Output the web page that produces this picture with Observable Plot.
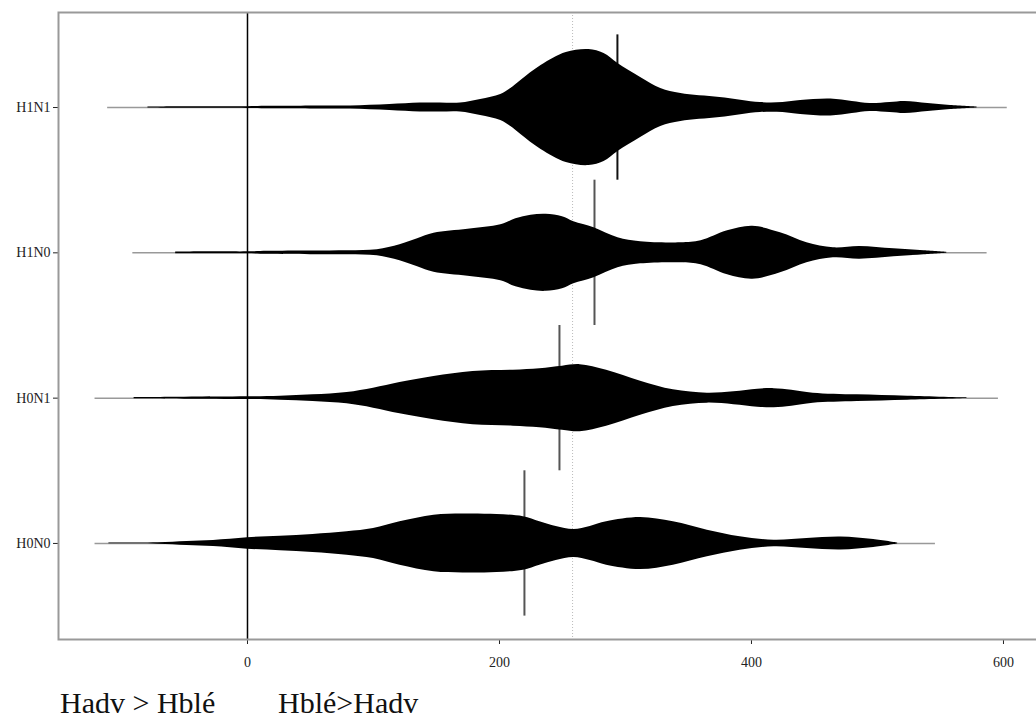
<!DOCTYPE html>
<html>
<head>
<meta charset="utf-8">
<script src="https://cdn.jsdelivr.net/npm/d3@7"></script>
<script src="https://cdn.jsdelivr.net/npm/@observablehq/plot@0.6"></script>
<style>
  html, body { margin: 0; padding: 0; background: white; overflow: hidden; }
  #chart { width: 1040px; }
  #notes { position: relative; height: 40px; font-family: "Liberation Serif", serif; font-size: 30px; color: #111; }
  #notes span { position: absolute; top: 6px; line-height: 34px; white-space: nowrap; }
</style>
</head>
<body>
<div id="chart"></div>
<div id="notes"><span style="left:60px">Hadv &gt; Hblé</span><span style="left:278px">Hblé&gt;Hadv</span></div>
<script>
// Groups, bottom to top
const groups = ["H0N0", "H0N1", "H1N0", "H1N1"];
const groupMeans = [219.8, 247.6, 275.4, 293.6];
const overallMean = 258;
const rangeMin = [-121, -121, -91, -111];
const rangeMax = [546, 596, 587, 603];
const xTicks = [0, 200, 400, 600];

// Bean density profiles (value, relative half-width)
const h0n0X = [-110, -71, -48, -27, 0, 26, 52, 79, 100, 121, 148, 171, 198, 219, 232, 245, 259, 272, 285, 312, 338, 365, 391, 418, 444, 471, 497, 516];
const h0n0D = [0.4, 0.7, 2, 3, 5.7, 7.3, 9, 11.7, 15, 21.7, 28.3, 29.5, 29, 26.7, 21.7, 17, 14, 17, 21.7, 26, 21.7, 13.3, 6.7, 3.3, 5, 6.5, 4, 0.5];

const h0n1X = [-90, -50, 0, 26, 52, 79, 100, 121, 148, 179, 211, 232, 250, 264, 285, 312, 338, 365, 386, 405, 418, 432, 449, 484, 524, 571];
const h0n1D = [0.7, 1, 1.3, 2, 3.3, 5.7, 10, 15.7, 21.7, 26.7, 28, 29.5, 32, 33.5, 28, 17, 8.3, 5, 6.5, 9, 9.5, 8, 5, 3.3, 2, 0.3];

const h1n0X = [-57, -20, 0, 16, 50, 80, 103, 121, 135, 148, 175, 201, 213, 225, 237, 250, 259, 275, 294, 312, 344, 360, 381, 401, 423, 444, 465, 486, 513, 537, 555];
const h1n0D = [0.8, 1, 1, 1.5, 1.8, 2, 3, 8, 14, 19.5, 23.5, 28, 34, 37.5, 38.5, 36, 31, 25, 15, 11, 10, 12, 22, 26.5, 20, 10, 5, 6.3, 4, 2, 0.5];

const h1n1X = [-79, -50, 0, 17, 33, 60, 82, 113, 137, 153, 169, 185, 201, 209, 217, 233, 253, 271, 283, 294, 312, 328, 344, 375, 407, 425, 439, 463, 480, 494, 510, 522, 540, 558, 579];
const h1n1D = [0.5, 0.8, 0.9, 1.3, 1.3, 1.5, 1.5, 3, 4.5, 4.5, 4.5, 8, 13, 19, 27, 42, 55, 58, 54, 44, 30, 19, 14, 10, 5, 5, 7, 8.5, 6, 4, 5, 6, 4, 2, 0.5];

const profileX = [h0n0X, h0n1X, h1n0X, h1n1X];
const profileD = [h0n0D, h0n1D, h1n0D, h1n1D];
const beanScale = 1 / 145.3; // density units -> group spacing

const beanRows = [];
profileX.forEach((xs, i) => {
  xs.forEach((x, j) => {
    const d = profileD[i][j] * beanScale;
    beanRows.push({group: groups[i], x, lo: i - d, hi: i + d});
  });
});
const groupRows = groups.map((g, i) => ({
  group: g, pos: i, mean: groupMeans[i], min: rangeMin[i], max: rangeMax[i],
  y1: i - 0.5, y2: i + 0.5
}));

const chart = Plot.plot({
  width: 1040,
  height: 680,
  marginLeft: 58,
  marginRight: 2,
  marginTop: 12,
  marginBottom: 41,
  style: {fontFamily: "Liberation Serif, serif", fontSize: "14px", color: "#222", background: "white"},
  x: {domain: [-150, 627.8], ticks: xTicks, tickSize: 5, tickPadding: 13, label: null},
  y: {domain: [-0.661, 3.654], ticks: [0, 1, 2, 3], tickFormat: i => groups[i], tickSize: 5, tickPadding: 3, label: null},
  marks: [
    Plot.ruleX([overallMean], {stroke: "#bbb", strokeWidth: 1, strokeDasharray: "1,2"}),
    Plot.ruleY(groupRows, {y: "pos", x1: "min", x2: "max", stroke: "#999", strokeWidth: 1.5}),
    Plot.ruleX(groupRows, {x: "mean", y1: "y1", y2: "y2", stroke: (d) => d.pos === 3 ? "#111" : "#555", strokeWidth: 2}),
    Plot.areaY(beanRows, {x: "x", y1: "lo", y2: "hi", z: "group", fill: "black", curve: "catmull-rom"}),
    Plot.ruleX([0], {stroke: "black", strokeWidth: 1.5}),
    Plot.frame({stroke: "#999", strokeWidth: 2})
  ]
});
document.getElementById("chart").appendChild(chart);
</script>
</body>
</html>
